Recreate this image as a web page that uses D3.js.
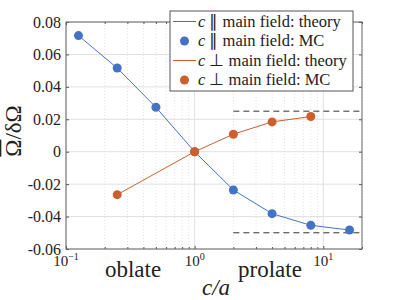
<!DOCTYPE html>
<html>
<head>
<meta charset="utf-8">
<script src="https://cdn.jsdelivr.net/npm/d3@7"></script>
<style>
  body { margin: 0; background: #fff; }
  .ser { font-family: "Liberation Serif"; fill: #222; }
</style>
</head>
<body>
<div id="chart"></div>
<script>
// c/a values and results
var ratioPar = [0.125, 0.25, 0.5, 1, 2, 4, 8, 16];
var parTheory = [0.0716, 0.0516, 0.0274, 0.0, -0.0236, -0.0382, -0.0454, -0.0483];
var parMC = [0.0716, 0.0516, 0.0274, 0.0, -0.0236, -0.0382, -0.0454, -0.0483];

var ratioPerp = [0.25, 1, 2, 4, 8];
var perpTheory = [-0.0265, 0.0, 0.0108, 0.0184, 0.0217];
var perpMC = [-0.0265, 0.0, 0.0108, 0.0184, 0.0217];

// asymptotes (dashed)
var asymStart = 2, asymEnd = 20;
var asymValues = [0.025, -0.05];

var yTicks = [0.08, 0.06, 0.04, 0.02, 0, -0.02, -0.04, -0.06];
var xTicks = [0.1, 1, 10];
var xTickExp = ["\u22121", "0", "1"];

var blue = "#4472c4", orange = "#cc5f2e";

var margin = {top: 22, right: 38, bottom: 51, left: 66},
    width = 400 - margin.left - margin.right,
    height = 300 - margin.top - margin.bottom;

var svg = d3.select("#chart").append("svg")
    .attr("width", 400).attr("height", 300);

var g = svg.append("g").attr("transform", "translate(" + margin.left + "," + margin.top + ")");

var x = d3.scaleLog().domain([0.1, 20]).range([0, width]);
var y = d3.scaleLinear().domain([-0.06, 0.08]).range([height, 0]);

// minor x grid
var minor = [];
[0.1, 1, 10].forEach(function(d) {
    for (var k = 2; k <= 9; k++) { if (d * k <= 20) minor.push(d * k); }
});
g.selectAll(".gminor").data(minor).enter().append("line")
    .attr("x1", function(d) { return x(d); }).attr("x2", function(d) { return x(d); })
    .attr("y1", 0).attr("y2", height)
    .attr("stroke", "#e2e2e2").attr("stroke-dasharray", "1,2");

// major grid
g.selectAll(".gx").data(xTicks).enter().append("line")
    .attr("x1", function(d) { return x(d); }).attr("x2", function(d) { return x(d); })
    .attr("y1", 0).attr("y2", height)
    .attr("stroke", "#e0e0e0");
g.selectAll(".gy").data(yTicks).enter().append("line")
    .attr("y1", function(d) { return y(d); }).attr("y2", function(d) { return y(d); })
    .attr("x1", 0).attr("x2", width)
    .attr("stroke", "#e0e0e0");

// axes (ticks inward)
g.append("g").attr("class", "y-axis")
    .call(d3.axisLeft(y).tickValues(yTicks).tickSize(-3).tickPadding(5)
        .tickFormat(function(d) { return d === 0 ? "0" : d3.format(".2f")(d).replace("\u2212", "-"); }))
    .call(function(a) {
        a.attr("font-family", null).attr("font-size", null);
        a.select(".domain").remove();
        a.selectAll("line").attr("stroke", "#555");
        a.selectAll("text").attr("class", "ser").attr("style", "font-family:'Liberation Serif';font-size:16px");
    });
g.append("g").attr("transform", "translate(" + width + ",0)")
    .call(d3.axisRight(y).tickValues(yTicks).tickSize(-3).tickFormat(""))
    .call(function(a) { a.select(".domain").remove(); a.selectAll("line").attr("stroke", "#555"); });

g.append("g").attr("transform", "translate(0," + height + ")")
    .call(d3.axisBottom(x).tickValues(xTicks.concat(minor)).tickSize(-3).tickFormat(""))
    .call(function(a) {
        a.select(".domain").remove();
        a.selectAll("line").attr("stroke", "#555")
            .attr("y2", function(d) { return xTicks.indexOf(d) >= 0 ? -3 : -2; });
    });
g.append("g")
    .call(d3.axisTop(x).tickValues(xTicks.concat(minor)).tickSize(-3).tickFormat(""))
    .call(function(a) {
        a.select(".domain").remove();
        a.selectAll("line").attr("stroke", "#555")
            .attr("y2", function(d) { return xTicks.indexOf(d) >= 0 ? 3 : 2; });
    });

xTicks.forEach(function(d, i) {
    var t = g.append("text").attr("class", "ser").attr("x", x(d)).attr("y", height + 17)
        .attr("text-anchor", "middle").attr("style", "font-family:'Liberation Serif';font-size:15px");
    t.append("tspan").text("10");
    t.append("tspan").attr("dy", -6).attr("style", "font-size:10px").text(xTickExp[i]);
});

g.append("rect").attr("width", width).attr("height", height)
    .attr("fill", "none").attr("stroke", "#666");

// dashed asymptotes
g.selectAll(".asym").data(asymValues).enter().append("line")
    .attr("x1", x(asymStart)).attr("x2", x(asymEnd))
    .attr("y1", function(d) { return y(d); }).attr("y2", function(d) { return y(d); })
    .attr("stroke", "#333").attr("stroke-dasharray", "6,4");

// theory lines
var line = d3.line()
    .x(function(d) { return x(d[0]); })
    .y(function(d) { return y(d[1]); });

g.append("path").datum(d3.zip(ratioPar, parTheory))
    .attr("d", line).attr("fill", "none").attr("stroke", blue).attr("stroke-width", 1);
g.append("path").datum(d3.zip(ratioPerp, perpTheory))
    .attr("d", line).attr("fill", "none").attr("stroke", orange).attr("stroke-width", 1);

// MC points
g.selectAll(".ppar").data(d3.zip(ratioPar, parMC)).enter().append("circle")
    .attr("cx", function(d) { return x(d[0]); }).attr("cy", function(d) { return y(d[1]); })
    .attr("r", 4.5).attr("fill", blue);
g.selectAll(".pperp").data(d3.zip(ratioPerp, perpMC)).enter().append("circle")
    .attr("cx", function(d) { return x(d[0]); }).attr("cy", function(d) { return y(d[1]); })
    .attr("r", 4.5).attr("fill", orange);

// region labels
g.append("text").attr("class", "ser").attr("x", 67).attr("y", height + 28).attr("text-anchor", "middle")
    .attr("style", "font-family:'Liberation Serif';font-size:23px").text("oblate");
g.append("text").attr("class", "ser").attr("x", 204).attr("y", height + 28).attr("text-anchor", "middle")
    .attr("style", "font-family:'Liberation Serif';font-size:23px").text("prolate");

// axis labels
g.append("text").attr("class", "ser").attr("x", width / 2 + 2).attr("y", height + 46).attr("text-anchor", "middle")
    .attr("style", "font-family:'Liberation Serif';font-size:23px;font-style:italic").text("c/a");

var yl = svg.append("text").attr("class", "ser").attr("transform", "translate(21,131) rotate(-90)")
    .attr("text-anchor", "middle").attr("style", "font-family:'Liberation Serif';font-size:23px");
yl.append("tspan").style("text-decoration", "overline").text("\u03A9");
yl.append("tspan").text("/\u03B4\u03A9");

// legend
var legendItems = [
    {sym: "\u2225", label: " main field: theory", color: blue, type: "line"},
    {sym: "\u2225", label: " main field: MC", color: blue, type: "dot"},
    {sym: "\u22A5", label: " main field: theory", color: orange, type: "line"},
    {sym: "\u22A5", label: " main field: MC", color: orange, type: "dot"}
];
var lg = svg.append("g").attr("transform", "translate(170,11)");
lg.append("rect").attr("width", 183).attr("height", 80)
    .attr("fill", "#fff").attr("stroke", "#555");
legendItems.forEach(function(d, i) {
    var cy = 10.5 + i * 19.5;
    if (d.type === "line") {
        lg.append("line").attr("x1", 3).attr("x2", 26).attr("y1", cy).attr("y2", cy)
            .attr("stroke", d.color);
    } else {
        lg.append("circle").attr("cx", 14.5).attr("cy", cy).attr("r", 4.5).attr("fill", d.color);
    }
    var t = lg.append("text").attr("class", "ser").attr("x", 28).attr("y", cy + 5)
        .attr("style", "font-family:'Liberation Serif';font-size:16.5px");
    t.append("tspan").attr("style", "font-style:italic").text("c");
    t.append("tspan").text(" " + d.sym + d.label);
});
</script>
</body>
</html>
